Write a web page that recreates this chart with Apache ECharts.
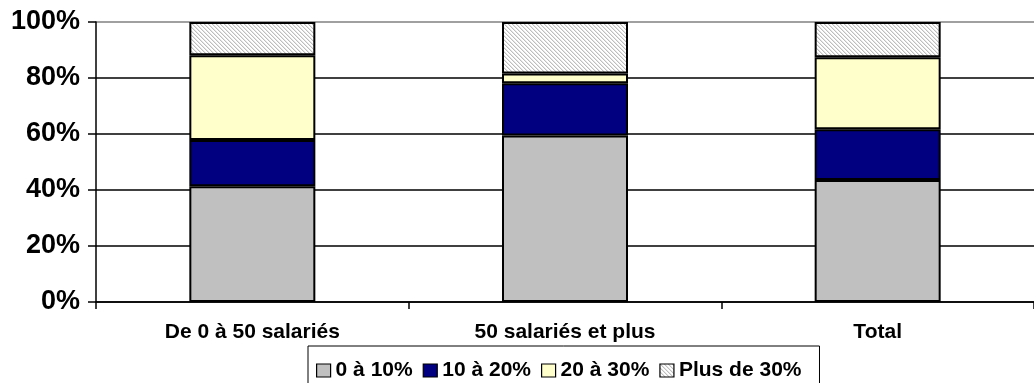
<!DOCTYPE html>
<html>
<head>
<meta charset="utf-8">
<script src="https://cdn.jsdelivr.net/npm/echarts@6/dist/echarts.min.js"></script>
<style>
  html, body { margin: 0; padding: 0; background: #fff; }
  #chart { width: 1034px; height: 383px; }
</style>
</head>
<body>
<div id="chart"></div>
<script>
// Company size groups
const categories = ['De 0 à 50 salariés', '50 salariés et plus', 'Total'];
// Share (%) of companies per band
const share0to10 = [41.3, 59.5, 43.6];
const share10to20 = [16.6, 18.6, 18.1];
const share20to30 = [30.2, 3.5, 25.7];
const shareOver30 = [11.9, 18.4, 12.6];
const seriesNames = ['0 à 10%', '10 à 20%', '20 à 30%', 'Plus de 30%'];
const yTicks = { min: 0, max: 100, step: 20 };

// Downward diagonal hatch used for the top band
function hatchPattern() {
  const c = document.createElement('canvas');
  c.width = 4; c.height = 4;
  const ctx = c.getContext('2d');
  ctx.fillStyle = '#ffffff';
  ctx.fillRect(0, 0, 4, 4);
  ctx.fillStyle = '#bdbdbd';
  for (let i = 0; i < 4; i++) ctx.fillRect(i, i, 1, 1);
  ctx.fillStyle = '#e6e6e6';
  for (let i = 0; i < 4; i++) ctx.fillRect((i + 1) % 4, i, 1, 1);
  return { image: c, repeat: 'repeat' };
}

const font = 'Liberation Sans, Arial, sans-serif';
const fills = ['#c0c0c0', '#000080', '#ffffcc', hatchPattern()];
const values = [share0to10, share10to20, share20to30, shareOver30];

const chart = echarts.init(document.getElementById('chart'), null, { renderer: 'canvas' });
chart.setOption({
  animation: false,
  backgroundColor: '#ffffff',
  grid: { left: 96, right: -10, top: 22, bottom: 81, containLabel: false },
  legend: {
    left: 308, top: 346,
    icon: 'rect',
    itemWidth: 14, itemHeight: 13, itemGap: 10,
    padding: [14, 18, 20, 8],
    borderColor: '#000', borderWidth: 1,
    textStyle: { fontFamily: font, fontWeight: 'bold', fontSize: 21, color: '#000' },
    itemStyle: { borderColor: '#000', borderWidth: 1.2 },
    data: seriesNames
  },
  xAxis: {
    type: 'category',
    data: categories,
    axisLine: { lineStyle: { color: '#000', width: 1.5 } },
    axisTick: { show: true, length: 7, lineStyle: { color: '#000', width: 1.5 } },
    axisLabel: { margin: 20, fontFamily: font, fontWeight: 'bold', fontSize: 21, color: '#000' }
  },
  yAxis: {
    type: 'value',
    min: yTicks.min, max: yTicks.max, interval: yTicks.step,
    axisLine: { show: true, lineStyle: { color: '#000', width: 1.5 } },
    axisTick: { show: true, length: 8, lineStyle: { color: '#000', width: 1.5 } },
    axisLabel: { margin: 16, formatter: '{value}%', fontFamily: font, fontWeight: 'bold', fontSize: 27, color: '#000' },
    splitLine: { show: true, lineStyle: { color: ['#000', '#000', '#000', '#000', '#000', '#808080'], width: 1.5 } }
  },
  series: values.map((v, i) => ({
    name: seriesNames[i],
    type: 'bar',
    stack: 'total',
    data: v,
    barWidth: 126,
    itemStyle: { color: fills[i], borderColor: '#000', borderWidth: 2 }
  }))
});
</script>
</body>
</html>
